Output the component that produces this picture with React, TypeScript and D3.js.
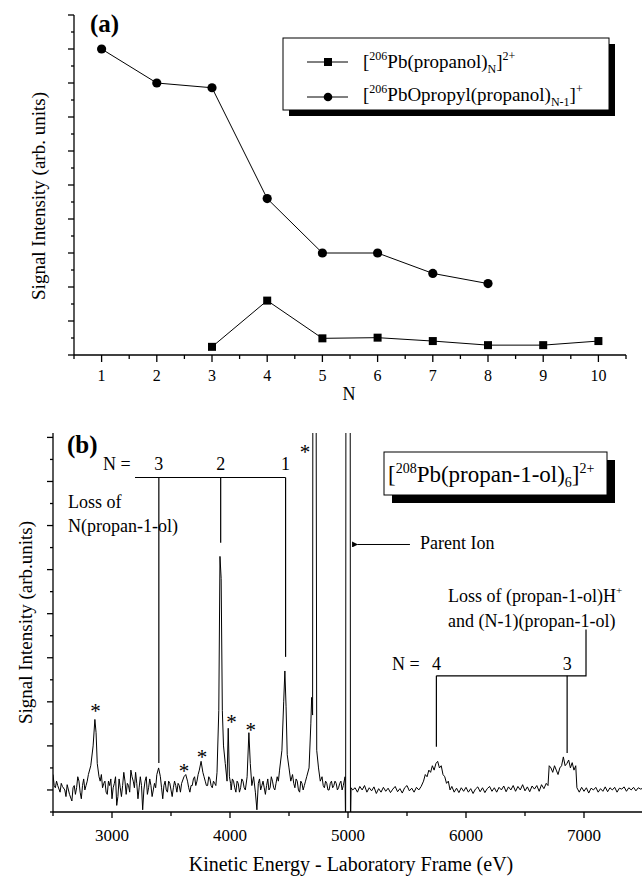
import React from 'react';
import * as d3 from 'd3';

// ---------- Panel (a) data ----------
const nTicks = [1, 2, 3, 4, 5, 6, 7, 8, 9, 10];
const ionN = [3, 4, 5, 6, 7, 8, 9, 10];
const ionIntensity = [0.24, 1.6, 0.49, 0.51, 0.41, 0.29, 0.29, 0.41];
const oxideN = [1, 2, 3, 4, 5, 6, 7, 8];
const oxideIntensity = [9.0, 8.0, 7.86, 4.6, 3.0, 3.0, 2.4, 2.1];

// ---------- Panel (b) data ----------
const energyTicks = [3000, 4000, 5000, 6000, 7000];
const spectrum: [number, number][] = [
  [2500, 0.35], [2510, 0.1], [2520, 0.05], [2530, 0.2], [2540, 0.1], [2560, -0.05], [2570, 0.15], [2580, 0.08], [2600, 0.0], [2610, -0.15], [2620, 0.12], [2640, -0.1],
  [2660, -0.25], [2670, 0.05], [2680, 0.1], [2690, -0.1], [2700, 0.05], [2710, 0.3], [2720, 0.2], [2730, -0.05], [2740, -0.2], [2750, 0.1], [2760, 0.25], [2770, 0.0], [2780, 0.1], [2790, 0.2], [2800, 0.35],
  [2820, 0.55], [2840, 1.0], [2855, 1.6], [2865, 1.3], [2875, 0.6], [2890, 0.3], [2900, 0.2], [2910, 0.35], [2920, 0.05],
  [2930, 0.15], [2940, 0.2], [2950, -0.05], [2960, -0.1], [2970, 0.2], [2980, 0.1], [2990, 0.25], [3000, -0.2], [3010, 0.05], [3020, 0.15], [3030, 0.3], [3040, -0.35], [3050, -0.15], [3060, 0.25], [3070, 0.05], [3080, -0.15],
  [3090, 0.1], [3100, 0.4], [3110, 0.2], [3120, -0.1], [3130, 0.15], [3140, 0.1], [3150, -0.05], [3160, 0.45], [3170, 0.3], [3180, 0.2], [3190, 0.05], [3200, 0.4], [3210, 0.15], [3220, -0.2], [3230, 0.05], [3240, 0.3],
  [3250, 0.1], [3260, -0.45], [3270, 0.0], [3280, 0.2], [3290, 0.3], [3300, -0.1], [3310, 0.05], [3320, 0.25], [3330, 0.1], [3340, -0.15], [3350, 0.0], [3360, 0.15], [3370, 0.05], [3380, 0.35], [3395, 0.5],
  [3410, 0.3], [3420, 0.05], [3430, -0.2], [3440, 0.1], [3450, 0.2], [3460, 0.0], [3470, -0.05], [3480, 0.2], [3490, 0.15], [3500, 0.0], [3510, -0.15], [3520, 0.05], [3530, 0.2], [3540, 0.1], [3550, -0.05],
  [3560, 0.15], [3570, 0.1], [3580, -0.05], [3590, 0.15], [3610, 0.3], [3625, 0.35], [3640, 0.2], [3650, 0.05], [3660, -0.05], [3670, 0.1], [3680, 0.1], [3690, 0.25], [3700, 0.3],
  [3710, 0.1], [3720, 0.2], [3730, 0.35], [3740, 0.45], [3755, 0.65], [3770, 0.4], [3780, 0.3], [3790, 0.2], [3800, 0.1], [3810, 0.1], [3820, 0.3], [3830, 0.25], [3840, 0.1], [3850, 0.05],
  [3860, 0.2], [3870, 0.15], [3880, 0.1], [3890, 0.4], [3905, 1.8], [3915, 5.3], [3925, 4.8], [3935, 1.8], [3945, 1.0], [3960, 0.6],
  [3975, 0.2], [3985, 1.4], [3995, 0.3], [4005, 0.15], [4010, 0.0], [4020, 0.25], [4030, 0.2], [4040, 0.05], [4050, -0.05], [4060, 0.2], [4070, 0.15], [4080, -0.05], [4090, 0.05],
  [4100, 0.25], [4110, 0.2], [4120, 0.05], [4130, 0.0], [4145, 0.3], [4160, 1.3], [4172, 0.6], [4185, 0.1], [4200, 0.3], [4215, -0.05],
  [4228, -0.45], [4240, 0.15], [4250, 0.25], [4260, 0.0], [4270, 0.1], [4280, 0.2], [4290, 0.05], [4300, -0.1], [4310, 0.1], [4320, 0.25], [4330, 0.0], [4340, 0.05], [4350, 0.3], [4360, 0.2],
  [4370, 0.05], [4380, 0.0], [4390, 0.15], [4400, 0.3], [4410, 0.2], [4420, 0.45], [4440, 0.9], [4455, 2.0], [4465, 2.7], [4475, 1.9], [4485, 0.8],
  [4500, 0.5], [4515, 0.2], [4530, 0.35], [4540, 0.15], [4550, 0.05], [4560, 0.25], [4570, 0.2], [4580, 0.0], [4590, -0.05], [4600, 0.2], [4610, 0.15], [4620, 0.0], [4630, 0.1],
  [4640, 0.2], [4650, 0.3], [4670, 0.5], [4685, 1.5], [4692, 2.1], [4700, 1.7], [4703, 12], [4728, 12], [4735, 0.9],
  [4750, 0.5], [4765, 0.2], [4780, 0.3], [4790, 0.1], [4800, 0.05], [4810, 0.2], [4820, 0.15], [4830, 0.0], [4840, 0.0], [4850, 0.15], [4860, 0.2], [4870, 0.05], [4880, 0.1],
  [4890, 0.2], [4900, 0.15], [4910, 0.0], [4920, 0.05], [4930, 0.15], [4940, 0.2], [4950, 0.0], [4960, 0.1], [4975, 0.3], [4980, -1], [4983, 12], [5018, 12],
  [5021, -1], [5026, 0.05], [5040, 0.0], [5060, 0.05], [5080, -0.05], [5100, 0.08], [5120, 0.0], [5140, 0.1],
  [5160, -0.05], [5180, 0.05], [5200, -0.02], [5220, 0.07], [5240, -0.08], [5260, 0.03], [5280, -0.05], [5300, 0.06],
  [5320, -0.03], [5340, 0.04], [5360, -0.06], [5380, 0.02], [5400, 0.08], [5420, -0.04], [5440, 0.03], [5460, -0.07],
  [5480, 0.05], [5500, 0.1], [5520, -0.02], [5540, 0.04], [5560, -0.05], [5580, 0.06], [5600, 0.0], [5620, 0.08],
  [5640, 0.2], [5655, 0.35], [5670, 0.3], [5685, 0.45], [5700, 0.4], [5715, 0.55], [5730, 0.45], [5745, 0.6],
  [5760, 0.65], [5775, 0.5], [5790, 0.55], [5805, 0.35], [5820, 0.3], [5835, 0.15], [5850, 0.2], [5865, 0.0],
  [5880, 0.08], [5900, -0.05], [5920, 0.04], [5940, -0.06], [5960, 0.05], [5980, -0.03], [6000, 0.06], [6020, -0.05],
  [6040, 0.03], [6060, -0.08], [6080, 0.02], [6100, 0.07], [6120, -0.04], [6140, 0.05], [6160, -0.06], [6180, 0.03],
  [6200, 0.08], [6220, -0.03], [6240, 0.05], [6260, -0.05], [6280, 0.06], [6300, 0.0], [6320, 0.09], [6340, -0.04],
  [6360, 0.07], [6380, 0.0], [6400, 0.1], [6420, -0.03], [6440, 0.08], [6460, 0.0], [6480, 0.12], [6500, -0.02],
  [6520, 0.07], [6540, -0.04], [6560, 0.09], [6580, 0.02], [6600, 0.1], [6620, -0.03], [6640, 0.12], [6660, 0.03],
  [6680, 0.15], [6695, 0.1], [6705, 0.55], [6720, 0.5], [6735, 0.4], [6750, 0.55], [6765, 0.45], [6780, 0.35],
  [6795, 0.5], [6810, 0.55], [6825, 0.75], [6840, 0.55], [6855, 0.6], [6870, 0.68], [6885, 0.5], [6900, 0.62],
  [6915, 0.45], [6930, 0.55], [6940, 0.05], [6960, -0.05], [6980, 0.06], [7000, -0.03], [7020, 0.05], [7040, -0.07],
  [7060, 0.04], [7080, 0.0], [7100, 0.06], [7120, -0.05], [7140, 0.03], [7160, -0.03], [7180, 0.07], [7200, -0.04],
  [7220, 0.05], [7240, 0.0], [7260, 0.06], [7280, -0.05], [7300, 0.04], [7320, 0.02], [7340, 0.07], [7360, -0.03],
  [7380, 0.05], [7400, 0.0], [7420, 0.06], [7440, -0.02], [7460, 0.05], [7480, 0.02], [7500, 0.04],
];
const starEnergy = [2860, 3610, 3762, 4012, 4176, 4635];
const starHeight = [1.89, 0.52, 0.84, 1.64, 1.45, 7.75];
const neutralLossLabels = ['3', '2', '1'];
const neutralLossEnergy = [3397, 3921, 4471];
const neutralLossEnd = [0.61, 5.61, 3.02];
const protonLossLabels = ['4', '3'];
const protonLossEnergy = [5749, 6857];
const protonLossEnd = [0.98, 0.84];

const FONT = "'Liberation Serif', 'Times New Roman', Times, serif";

export default function App() {
  // ---- scales panel (a)
  const xA = d3.scaleLinear().domain([0.5, 10.5]).range([74, 626]);
  const yA = d3.scaleLinear().domain([0, 10]).range([355, 15]);
  const xAMinor = d3.range(0.5, 10.51, 1);
  const yAMajor = d3.range(0, 10.01, 1);
  const yAMinor = d3.range(0.5, 10, 1);
  const lineA = d3.line<[number, number]>().x(d => xA(d[0])).y(d => yA(d[1]));
  const ionPts = ionN.map((n, i) => [n, ionIntensity[i]] as [number, number]);
  const oxPts = oxideN.map((n, i) => [n, oxideIntensity[i]] as [number, number]);

  // ---- scales panel (b)
  const xB = d3.scaleLinear().domain([2500, 7500]).range([53, 643]);
  const yB = d3.scaleLinear().domain([-0.5, 8.1]).range([812, 433]);
  const xBMinor = d3.range(2500, 7501, 1000);
  const yBMajor = d3.range(0, 8.01, 1);
  const yBMinor = d3.range(-0.5, 8, 1);
  const lineB = d3.line<[number, number]>().x(d => xB(d[0])).y(d => yB(d[1]));

  const sup = 12;
  return (
    <svg width={642} height={876} style={{ position: 'absolute', left: 0, top: 0, background: '#fff' }}
      fontFamily={FONT}>
      <rect x={0} y={0} width={642} height={876} fill="#fff" />
      {/* ================= Panel (a) ================= */}
      <g stroke="#000" strokeWidth={1.3}>
        <line x1={xA.range()[0]} x2={xA.range()[0]} y1={yA(0)} y2={yA(10)} />
        <line x1={xA.range()[0]} x2={xA.range()[1]} y1={yA(0)} y2={yA(0)} />
        {yAMajor.map(v => <line key={'yam' + v} x1={xA.range()[0] - 6} x2={xA.range()[0]} y1={yA(v)} y2={yA(v)} />)}
        {yAMinor.map(v => <line key={'yan' + v} x1={xA.range()[0] - 3} x2={xA.range()[0]} y1={yA(v)} y2={yA(v)} />)}
        {nTicks.map(v => <line key={'xam' + v} x1={xA(v)} x2={xA(v)} y1={yA(0)} y2={yA(0) + 7} />)}
        {xAMinor.map(v => <line key={'xan' + v} x1={xA(v)} x2={xA(v)} y1={yA(0)} y2={yA(0) + 4} />)}
      </g>
      {nTicks.map(v => (
        <text key={'xal' + v} x={xA(v)} y={381} fontSize={16} textAnchor="middle">{v}</text>
      ))}
      <text x={xA(5.5) - 1} y={400} fontSize={18} textAnchor="middle">N</text>
      <text transform="translate(45,196) rotate(-90)" fontSize={19} textAnchor="middle">Signal Intensity (arb. units)</text>
      <text x={90} y={32} fontSize={25} fontWeight="bold">(a)</text>

      <path d={lineA(oxPts) || ''} fill="none" stroke="#000" strokeWidth={1} />
      <path d={lineA(ionPts) || ''} fill="none" stroke="#000" strokeWidth={1} />
      {oxPts.map((d, i) => <circle key={'c' + i} cx={xA(d[0])} cy={yA(d[1])} r={4.6} fill="#000" />)}
      {ionPts.map((d, i) => <rect key={'s' + i} x={xA(d[0]) - 4} y={yA(d[1]) - 4} width={8} height={8} fill="#000" />)}

      {/* legend (a) */}
      <rect x={289} y={44} width={326} height={72} fill="#000" />
      <rect x={283} y={38} width={326} height={72} fill="#fff" stroke="#000" strokeWidth={1} />
      <line x1={307} x2={348} y1={62} y2={62} stroke="#000" strokeWidth={1} />
      <rect x={324} y={58} width={8} height={8} fill="#000" />
      <line x1={307} x2={348} y1={97} y2={97} stroke="#000" strokeWidth={1} />
      <circle cx={328} cy={97} r={4.3} fill="#000" />
      <text x={363} y={68} fontSize={19}>
        [<tspan dy={-8} fontSize={sup}>206</tspan><tspan dy={8}>Pb(propanol)</tspan><tspan dy={5} fontSize={sup}>N</tspan><tspan dy={-5}>]</tspan><tspan dy={-8} fontSize={sup}>2+</tspan>
      </text>
      <text x={363} y={101} fontSize={19}>
        [<tspan dy={-8} fontSize={sup}>206</tspan><tspan dy={8}>PbOpropyl(propanol)</tspan><tspan dy={5} fontSize={sup}>N-1</tspan><tspan dy={-5}>]</tspan><tspan dy={-8} fontSize={sup}>+</tspan>
      </text>

      {/* ================= Panel (b) ================= */}
      <defs>
        <clipPath id="clipB">
          <rect x={xB.range()[0]} y={yB(8.1)} width={xB.range()[1] - xB.range()[0]} height={yB(-0.5) - yB(8.1)} />
        </clipPath>
      </defs>
      <g stroke="#000" strokeWidth={1.3}>
        <line x1={xB.range()[0]} x2={xB.range()[0]} y1={yB(-0.5)} y2={yB(8.1)} />
        <line x1={xB.range()[0]} x2={xB.range()[1]} y1={yB(-0.5)} y2={yB(-0.5)} />
        {yBMajor.map(v => <line key={'ybm' + v} x1={xB.range()[0] - 6} x2={xB.range()[0]} y1={yB(v)} y2={yB(v)} />)}
        {yBMinor.map(v => <line key={'ybn' + v} x1={xB.range()[0] - 3} x2={xB.range()[0]} y1={yB(v)} y2={yB(v)} />)}
        {energyTicks.map(v => <line key={'xbm' + v} x1={xB(v)} x2={xB(v)} y1={yB(-0.5)} y2={yB(-0.5) + 6} />)}
        {xBMinor.map(v => <line key={'xbn' + v} x1={xB(v)} x2={xB(v)} y1={yB(-0.5)} y2={yB(-0.5) + 4} />)}
      </g>
      {energyTicks.map(v => (
        <text key={'xbl' + v} x={xB(v)} y={841} fontSize={17} textAnchor="middle">{v}</text>
      ))}
      <text x={351} y={871} fontSize={20} textAnchor="middle">Kinetic Energy - Laboratory Frame (eV)</text>
      <text transform={`translate(32,${yB(3.8)}) rotate(-90)`} fontSize={19} textAnchor="middle">Signal Intensity (arb.units)</text>
      <text x={67} y={453} fontSize={25} fontWeight="bold">(b)</text>

      <path d={lineB(spectrum) || ''} fill="none" stroke="#000" strokeWidth={1} clipPath="url(#clipB)" strokeLinejoin="round" />

      {starEnergy.map((e, i) => (
        <text key={'st' + i} x={xB(e)} y={yB(starHeight[i]) + 11} fontSize={21} textAnchor="middle" fill="#000">*</text>
      ))}

      {/* neutral loss annotation */}
      <text x={103} y={yB(7.25)} fontSize={18}>N =</text>
      {neutralLossEnergy.map((e, i) => (
        <g key={'nl' + i}>
          <text x={xB(e)} y={yB(7.25)} fontSize={18} textAnchor="middle">{neutralLossLabels[i]}</text>
          <line x1={xB(e)} x2={xB(e)} y1={yB(7.09)} y2={yB(neutralLossEnd[i])} stroke="#000" strokeWidth={1.2} />
        </g>
      ))}
      <line x1={xB(3195)} x2={xB(4471)} y1={yB(7.09)} y2={yB(7.09)} stroke="#000" strokeWidth={1.2} />
      <text x={68} y={508} fontSize={18}>Loss of</text>
      <text x={68} y={532} fontSize={18}>N(propan-1-ol)</text>

      {/* parent ion */}
      <defs>
        <marker id="arrowHead" viewBox="0 0 10 10" refX={1} refY={5} markerWidth={9} markerHeight={6} orient="auto-start-reverse" markerUnits="userSpaceOnUse">
          <path d="M10,0 L0,5 L10,10 z" fill="#000" />
        </marker>
      </defs>
      <line x1={xB(5525)} x2={xB(5080)} y1={yB(5.57)} y2={yB(5.57)} stroke="#000" strokeWidth={1} markerEnd="url(#arrowHead)" />
      <text x={420} y={549} fontSize={18}>Parent Ion</text>

      {/* title box (b) */}
      <rect x={392} y={460} width={223} height={43} fill="#000" />
      <rect x={384} y={452} width={223} height={43} fill="#fff" stroke="#000" strokeWidth={1} />
      <text x={388} y={482} fontSize={23}>
        [<tspan dy={-9} fontSize={14}>208</tspan><tspan dy={9}>Pb(propan-1-ol)</tspan><tspan dy={5} fontSize={14}>6</tspan><tspan dy={-5}>]</tspan><tspan dy={-9} fontSize={14}>2+</tspan>
      </text>

      {/* proton-transfer loss annotation */}
      <text x={448} y={602} fontSize={18}>Loss of (propan-1-ol)H<tspan dy={-8} fontSize={11}>+</tspan></text>
      <text x={448} y={627} fontSize={18}>and (N-1)(propan-1-ol)</text>
      <text x={392} y={yB(2.73)} fontSize={18}>N =</text>
      {protonLossEnergy.map((e, i) => (
        <g key={'pl' + i}>
          <text x={xB(e)} y={yB(2.73)} fontSize={18} textAnchor="middle">{protonLossLabels[i]}</text>
          <line x1={xB(e)} x2={xB(e)} y1={yB(2.59)} y2={yB(protonLossEnd[i])} stroke="#000" strokeWidth={1.2} />
        </g>
      ))}
      <polyline points={`${xB(5749)},${yB(2.59)} ${xB(7017)},${yB(2.59)} ${xB(7017)},${yB(3.64)}`} fill="none" stroke="#000" strokeWidth={1.2} />
    </svg>
  );
}
